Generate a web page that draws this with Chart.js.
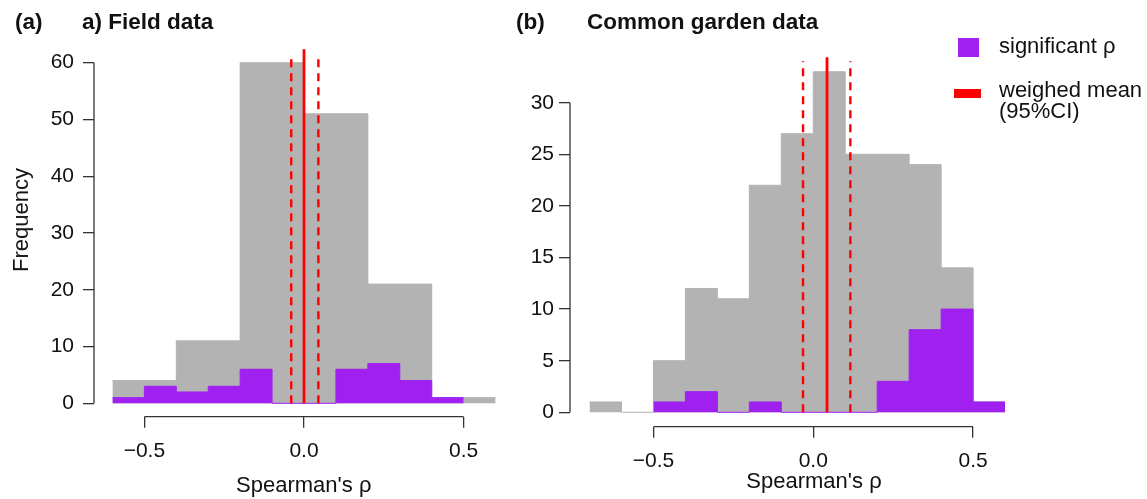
<!DOCTYPE html>
<html>
<head>
<meta charset="utf-8">
<script src="https://cdn.jsdelivr.net/npm/chart.js@4"></script>
<style>
  body { margin: 0; background: #fff; font-family: 'Liberation Sans', Arial, sans-serif; color: #111; }
  #page { position: relative; width: 1147px; height: 499px; overflow: hidden; }
  .box { position: absolute; top: 0; height: 499px; }
  .lbl { position: absolute; white-space: nowrap; }
  .ttl { font-weight: bold; font-size: 22.5px; line-height: 22.5px; top: 11px; }
  .leg { font-size: 22px; line-height: 22px; }
</style>
</head>
<body>
<div id="page">
  <div class="box" style="left:0;width:520px"><canvas id="chartA"></canvas></div>
  <div class="box" style="left:520px;width:627px"><canvas id="chartB"></canvas></div>

  <div class="lbl ttl" style="left:15px">(a)</div>
  <div class="lbl ttl" style="left:82px">a) Field data</div>
  <div class="lbl ttl" style="left:516px">(b)</div>
  <div class="lbl ttl" style="left:587px">Common garden data</div>

  <div class="lbl" style="left:21px;top:220px;font-size:22px;line-height:22px;transform:translate(-50%,-50%) rotate(-90deg)">Frequency</div>

  <div class="lbl" style="left:958px;top:38px;width:21px;height:19px;background:#a020f0"></div>
  <div class="lbl leg" style="left:999px;top:35px">significant ρ</div>
  <div class="lbl" style="left:954px;top:89px;width:27px;height:9px;background:#ff0000"></div>
  <div class="lbl leg" style="left:999px;top:79px">weighed mean</div>
  <div class="lbl leg" style="left:999px;top:100px">(95%CI)</div>
</div>

<script>
// (a) field data: all correlations (bins of 0.2) and significant ones (bins of 0.1)
var fieldEdges = [-0.6, -0.4, -0.2, 0.0, 0.2, 0.4, 0.6];
var fieldAll = [4, 11, 60, 51, 21, 1];
var fieldSigEdges = [-0.6, -0.5, -0.4, -0.3, -0.2, -0.1, 0.0, 0.1, 0.2, 0.3, 0.4, 0.5];
var fieldSig = [1, 3, 2, 3, 6, 0, 0, 6, 7, 4, 1];
var fieldMean = [-0.04, 0.0, 0.045]; // lower CI, mean, upper CI

// (b) common garden data
var gardenEdges = [-0.7, -0.6, -0.5, -0.4, -0.3, -0.2, -0.1, 0.0, 0.1, 0.2, 0.3, 0.4, 0.5, 0.6];
var gardenAll = [1, 0, 5, 12, 11, 22, 27, 33, 25, 25, 24, 14, 1];
var gardenSigEdges = [-0.5, -0.4, -0.3, -0.2, -0.1, 0.0, 0.1, 0.2, 0.3, 0.4, 0.5, 0.6];
var gardenSig = [1, 2, 0, 1, 0, 0, 0, 3, 8, 10, 1];
var gardenMean = [-0.032, 0.043, 0.116];

var xTicks = [-0.5, 0.0, 0.5];
var yTicksA = [0, 10, 20, 30, 40, 50, 60];
var yTicksB = [0, 5, 10, 15, 20, 25, 30];

var GREY = '#b3b3b3';
var PURPLE = '#a020f0';
var RED = '#ff0000';
var AXIS = '#333333';
var FONT = "'Liberation Sans', Arial, sans-serif";

// step outline of a histogram: value i holds from edge i to edge i+1
function steps(edges, counts) {
    var pts = counts.map(function (c, i) { return { x: edges[i], y: c }; });
    pts.push({ x: edges[counts.length], y: counts[counts.length - 1] });
    return pts;
}

function histSet(edges, counts, color) {
    return {
        data: steps(edges, counts),
        stepped: 'before',
        fill: 'origin',
        backgroundColor: color,
        borderColor: color,
        borderWidth: 1,
        pointRadius: 0
    };
}

// R style axes (line only between first and last tick) and the mean/CI lines
var rStyle = {
    id: 'rStyle',
    afterDatasetsDraw: function (chart, args, opts) {
        var ctx = chart.ctx, area = chart.chartArea;
        var x = chart.scales.x, y = chart.scales.y;
        var y0 = y.getPixelForValue(0);
        ctx.save();
        ctx.strokeStyle = RED;
        // CI lines
        ctx.lineWidth = 2.4;
        ctx.setLineDash([8, 6]);
        [opts.mean[0], opts.mean[2]].forEach(function (v) {
            var px = x.getPixelForValue(v);
            ctx.beginPath();
            ctx.moveTo(px, y0);
            ctx.lineTo(px, area.top + 4);
            ctx.stroke();
        });
        // mean line
        ctx.setLineDash([]);
        ctx.lineWidth = 2.8;
        var pm = x.getPixelForValue(opts.mean[1]);
        ctx.beginPath();
        ctx.moveTo(pm, y0);
        ctx.lineTo(pm, area.top);
        ctx.stroke();
        // axis lines
        ctx.strokeStyle = AXIS;
        ctx.lineWidth = 1.3;
        ctx.beginPath();
        ctx.moveTo(area.left, y.getPixelForValue(opts.yTicks[0]));
        ctx.lineTo(area.left, y.getPixelForValue(opts.yTicks[opts.yTicks.length - 1]));
        ctx.moveTo(x.getPixelForValue(xTicks[0]), area.bottom);
        ctx.lineTo(x.getPixelForValue(xTicks[xTicks.length - 1]), area.bottom);
        ctx.stroke();
        ctx.restore();
    }
};

function fmtX(v) {
    return v < 0 ? '\u2212' + Math.abs(v).toFixed(1) : v.toFixed(1);
}

function makeChart(id, all, allEdges, sig, sigEdges, mean, yTicks, geo) {
    return new Chart(document.getElementById(id), {
        type: 'line',
        data: {
            datasets: [
                histSet(sigEdges, sig, PURPLE),
                histSet(allEdges, all, GREY)
            ]
        },
        plugins: [rStyle],
        options: {
            responsive: true,
            maintainAspectRatio: false,
            animation: false,
            layout: { padding: { top: geo.top, right: geo.right, left: 0, bottom: 0 } },
            plugins: {
                legend: { display: false },
                tooltip: { enabled: false },
                rStyle: { mean: mean, yTicks: yTicks }
            },
            scales: {
                x: {
                    type: 'linear',
                    min: geo.xMin,
                    max: geo.xMax,
                    afterBuildTicks: function (s) { s.ticks = xTicks.map(function (v) { return { value: v }; }); },
                    afterFit: function (s) { s.height = geo.xh; },
                    border: { display: false },
                    grid: { drawOnChartArea: false, drawTicks: true, tickLength: 11, color: AXIS, lineWidth: 1.3 },
                    ticks: {
                        autoSkip: false, maxRotation: 0, padding: 11, color: '#111',
                        font: { family: FONT, size: 21 },
                        callback: fmtX
                    },
                    title: {
                        display: true, text: "Spearman's ρ", color: '#111',
                        font: { family: FONT, size: 22 },
                        padding: { top: 0, bottom: geo.tb }
                    }
                },
                y: {
                    min: geo.yMin,
                    max: geo.yMax,
                    afterBuildTicks: function (s) { s.ticks = yTicks.map(function (v) { return { value: v }; }); },
                    afterFit: function (s) { s.width = geo.yw; },
                    border: { display: false },
                    grid: { drawOnChartArea: false, drawTicks: true, tickLength: 11, color: AXIS, lineWidth: 1.3 },
                    ticks: {
                        autoSkip: false, padding: geo.yp, color: '#111',
                        font: { family: FONT, size: 21 }
                    }
                }
            }
        }
    });
}

makeChart('chartA', fieldAll, fieldEdges, fieldSig, fieldSigEdges, fieldMean, yTicksA,
    { top: 49.3, right: 6.5, xMin: -0.6577, xMax: 0.6561, yMin: -2.36, yMax: 62.36, xh: 82.3, yw: 94, yp: 9, tb: 0 });
makeChart('chartB', gardenAll, gardenEdges, gardenSig, gardenSigEdges, gardenMean, yTicksB,
    { top: 57.3, right: 89, xMin: -0.761, xMax: 0.7656, yMin: -1.395, yMax: 34.4, xh: 72.3, yw: 50, yp: 5, tb: 4 });
</script>
</body>
</html>
